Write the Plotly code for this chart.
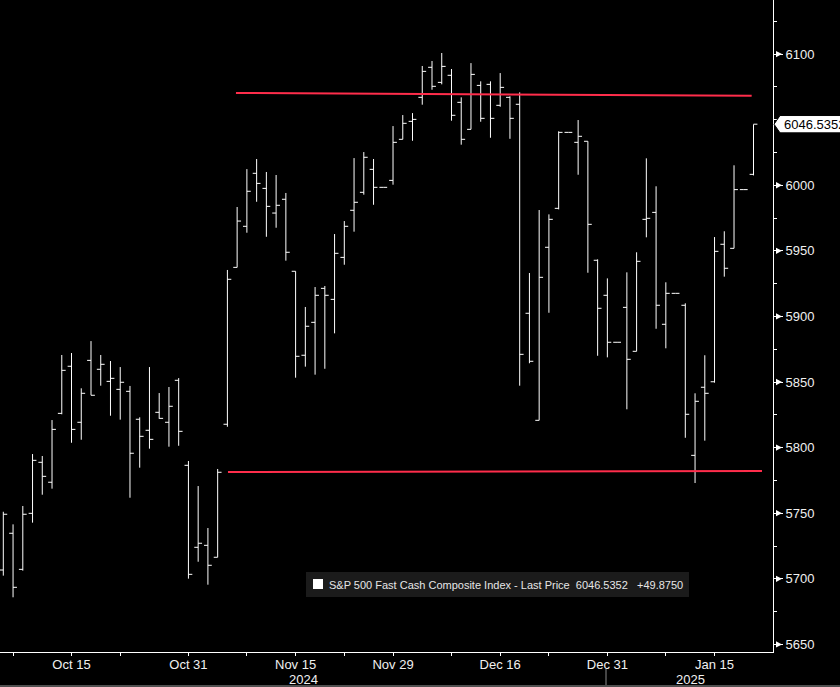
import pandas as pd
import plotly.graph_objects as go

# ---------------- data ----------------
dates = [d.strftime("%Y-%m-%d") for d in pd.bdate_range("2024-10-04", "2025-01-21")]

open_ = [5706.7, 5734.7, 5707.2, 5749.9, 5788.8, 5773.6, 5826.1, 5862.0, 5819.3, 5866.5,
         5859.7, 5850.5, 5844.4, 5842.9, 5821.6, 5813.2, 5826.9, 5819.3, 5851.3, 5786.5,
         5724.0, 5725.5, 5716.4, 5817.8, 5937.4, 5968.7, 6009.1, 5997.6, 5978.8, 5989.3,
         5934.4, 5870.4, 5895.5, 5921.4, 5913.0, 5945.0, 5980.9, 5994.6, 6012.1, 5998.4,
         6003.7, 6035.0, 6048.7, 6067.0, 6089.9, 6078.4, 6083.8, 6063.2, 6042.6, 6076.1,
         6076.9, 6060.9, 6067.0, 6061.7, 5902.4, 5820.8, 5952.7, 5982.4, 6040.3, 6032.7,
         6033.5, 5942.8, 5916.1, 5880.3, 5906.9, 5873.4, 5974.0, 5979.3, 5894.0, 5917.6,
         5908.5, 5794.1, 5846.0, 5850.2, 5955.0, 5951.9, 5996.66, 6008.3]
high = [5751.1, 5741.5, 5755.5, 5795.1, 5793.6, 5821.0, 5870.6, 5872.1, 5845.2, 5881.2,
        5870.6, 5866.0, 5861.4, 5847.0, 5823.1, 5861.4, 5841.6, 5846.2, 5853.0, 5789.8,
        5770.7, 5738.7, 5783.7, 5935.4, 5983.4, 6012.3, 6020.0, 6010.1, 6007.8, 5994.1,
        5934.4, 5907.2, 5922.4, 5923.2, 5962.8, 5972.7, 6020.7, 6025.3, 6020.0, 5998.4,
        6045.1, 6053.5, 6055.0, 6090.9, 6094.7, 6100.8, 6088.6, 6067.0, 6093.1, 6079.2,
        6079.2, 6085.5, 6067.8, 6070.8, 5933.1, 5981.1, 5977.8, 6041.1, 6040.3, 6049.7,
        6033.5, 5943.5, 5929.0, 5880.3, 5933.6, 5948.9, 6020.5, 5999.2, 5926.0, 5917.6,
        5910.0, 5841.4, 5870.4, 5960.5, 5964.9, 6015.2, 5996.66, 6046.4]
low = [5702.4, 5685.9, 5706.2, 5742.8, 5764.1, 5768.7, 5825.4, 5803.7, 5806.0, 5839.9,
       5847.2, 5824.3, 5821.3, 5761.8, 5784.7, 5799.2, 5822.0, 5800.7, 5801.4, 5700.1,
       5713.0, 5695.5, 5716.4, 5815.9, 5937.4, 5963.8, 5987.4, 5960.7, 5967.6, 5942.5,
       5853.3, 5861.7, 5855.6, 5860.1, 5887.1, 5939.4, 5964.6, 5992.8, 5985.1, 5998.4,
       6000.4, 6035.0, 6033.9, 6061.4, 6072.8, 6076.9, 6049.2, 6030.9, 6042.6, 6048.4,
       6036.2, 6059.8, 6035.4, 5847.2, 5864.3, 5820.8, 5902.8, 5981.6, 6040.3, 6008.0,
       5933.3, 5870.0, 5868.8, 5880.3, 5829.2, 5873.4, 5960.3, 5890.6, 5875.7, 5917.6,
       5807.5, 5773.0, 5805.3, 5849.5, 5930.3, 5951.9, 5996.66, 6007.5]
close = [5749.2, 5693.5, 5749.2, 5790.3, 5778.1, 5813.9, 5858.9, 5813.9, 5841.4, 5839.9,
         5863.5, 5852.8, 5849.8, 5795.7, 5808.6, 5806.3, 5822.3, 5831.5, 5812.4, 5703.4,
         5727.1, 5710.3, 5781.2, 5928.3, 5972.7, 5995.4, 6001.4, 5983.9, 5984.7, 5948.9,
         5869.6, 5892.5, 5916.1, 5916.1, 5948.1, 5968.7, 5987.0, 6021.3, 5998.4, 5998.4,
         6032.7, 6047.2, 6050.2, 6086.8, 6075.4, 6090.6, 6053.3, 6035.0, 6084.5, 6051.0,
         6051.0, 6074.6, 6051.0, 5871.1, 5865.8, 5929.8, 5974.0, 6040.3, 6040.3, 6037.3,
         5970.2, 5906.2, 5880.3, 5880.3, 5867.3, 5942.0, 5974.8, 5908.5, 5917.6, 5917.6,
         5825.4, 5835.3, 5841.4, 5949.6, 5936.7, 5996.66, 5996.66, 6046.5352]

tick_dates = ["2024-10-07", "2024-10-15", "2024-10-22", "2024-10-31", "2024-11-08",
              "2024-11-15", "2024-11-22", "2024-11-29", "2024-12-09", "2024-12-16",
              "2024-12-23", "2024-12-31", "2025-01-08", "2025-01-15"]
tick_labels = ["", "Oct 15", "", "Oct 31", "", "Nov 15", "", "Nov 29", "", "Dec 16",
               "", "Dec 31", "", "Jan 15"]
year_labels = ["2024", "2025"]
y_ticks = [5650, 5700, 5750, 5800, 5850, 5900, 5950, 6000, 6050, 6100]

last_price = 6046.5352
change = 49.8750
series_name = "S&P 500 Fast Cash Composite Index - Last Price"

# trend lines drawn on the chart (index position, price)
resist_x = [23.88, 76.81]
resist_y = [6070.3, 6068.2]
support_x = [23.06, 77.87]
support_y = [5781.4, 5782.2]

# ---------------- layout helpers ----------------
W, H = 840, 687
ML, MR, MT, MB = 0, 67, 0, 35
PW, PH = W - ML - MR, H - MT - MB


def fx(px):
    return (px - ML) / PW


def fy(py):
    return (PH + MT - py) / PH


FONT = "Liberation Sans"
TXT = "#f0f0f0"
RED = "#ff2d4b"

fig = go.Figure()
fig.add_trace(go.Ohlc(
    x=dates, open=open_, high=high, low=low, close=close,
    increasing=dict(line=dict(color="white", width=1)),
    decreasing=dict(line=dict(color="white", width=1)),
    tickwidth=0.4, showlegend=False, hoverinfo="skip"))

shapes = []
# trend lines
shapes.append(dict(type="line", xref="x", yref="y", x0=resist_x[0], x1=resist_x[1],
                   y0=resist_y[0], y1=resist_y[1], line=dict(color=RED, width=2)))
shapes.append(dict(type="line", xref="x", yref="y", x0=support_x[0], x1=support_x[1],
                   y0=support_y[0], y1=support_y[1], line=dict(color=RED, width=2)))

# arrow-like major ticks on the right axis
for v in y_ticks:
    if v == 6050:
        continue
    x0, x1 = fx(ML + PW + 3), fx(ML + PW + 9)
    shapes.append(dict(type="path", xref="paper", yref="y",
                       path=f"M {x0},{v + 2.4} L {x1},{v} L {x0},{v - 2.4} Z",
                       fillcolor="white", line=dict(color="white", width=0)))

# last price tag
d = 6.6
shapes.append(dict(type="path", xref="paper", yref="y",
                   path=(f"M {fx(774)},{last_price} L {fx(780)},{last_price + d} "
                         f"L {fx(850)},{last_price + d} L {fx(850)},{last_price - d} "
                         f"L {fx(780)},{last_price - d} Z"),
                   fillcolor="white", line=dict(color="black", width=1)))

# legend box
shapes.append(dict(type="rect", xref="paper", yref="paper", x0=fx(306), x1=fx(689),
                   y0=fy(597), y1=fy(572), fillcolor="#1b1b1b", line=dict(width=0)))
shapes.append(dict(type="rect", xref="paper", yref="paper", x0=fx(313), x1=fx(323),
                   y0=fy(589), y1=fy(579), fillcolor="white", line=dict(width=0)))

# year separator and bottom border
shapes.append(dict(type="line", xref="paper", yref="paper", x0=fx(606), x1=fx(606),
                   y0=fy(669), y1=fy(687), line=dict(color="#8a8a8a", width=1)))
shapes.append(dict(type="line", xref="paper", yref="paper", x0=fx(0), x1=fx(840),
                   y0=fy(686), y1=fy(686), line=dict(color="#505050", width=2)))

annotations = [
    dict(xref="paper", yref="y", x=fx(782), y=last_price, xanchor="left", yanchor="middle",
         text=f"{last_price:.4f}", showarrow=False,
         font=dict(family=FONT, size=13, color="black")),
    dict(xref="paper", yref="paper", x=fx(327), y=fy(584.5), xanchor="left", yanchor="middle",
         text=(f"{series_name}&nbsp;&nbsp;{last_price:.4f}&nbsp;&nbsp;&nbsp;"
               f"+{change:.4f}"),
         showarrow=False, font=dict(family=FONT, size=11, color="#e6e6e6")),
    dict(xref="paper", yref="paper", x=fx(303), y=fy(679), xanchor="center", yanchor="middle",
         text=year_labels[0], showarrow=False, font=dict(family=FONT, size=13, color=TXT)),
    dict(xref="paper", yref="paper", x=fx(690), y=fy(679), xanchor="center", yanchor="middle",
         text=year_labels[1], showarrow=False, font=dict(family=FONT, size=13, color=TXT)),
]

fig.update_layout(
    width=W, height=H,
    margin=dict(l=ML, r=MR, t=MT, b=MB, pad=0, autoexpand=False),
    paper_bgcolor="black", plot_bgcolor="black",
    showlegend=False,
    shapes=shapes, annotations=annotations,
    xaxis=dict(type="category", range=[-0.34, 79.0], tickmode="array",
               tickvals=tick_dates, ticktext=tick_labels, automargin=False,
               ticks="outside", ticklen=3, tickcolor="white", tickwidth=1,
               ticklabelstandoff=-3,
               showline=True, linecolor="white", linewidth=1,
               showgrid=False, zeroline=False, rangeslider=dict(visible=False),
               tickfont=dict(family=FONT, size=13, color=TXT)),
    yaxis=dict(side="right", range=[5644.2, 6141.2], tickmode="array", automargin=False,
               tickvals=y_ticks, ticktext=["" if v == 6050 else str(v) for v in y_ticks],
               ticks="outside", ticklen=9, tickcolor="white", tickwidth=1,
               showline=True, linecolor="white", linewidth=1,
               showgrid=False, zeroline=False,
               minor=dict(tickmode="linear", tick0=5625, dtick=25, ticks="outside",
                          ticklen=3, tickcolor="white"),
               tickfont=dict(family=FONT, size=13, color=TXT)),
)

fig.write_html("out.html", config={"displayModeBar": False},
               post_script="document.body.style.margin='0';document.body.style.background='black';")
